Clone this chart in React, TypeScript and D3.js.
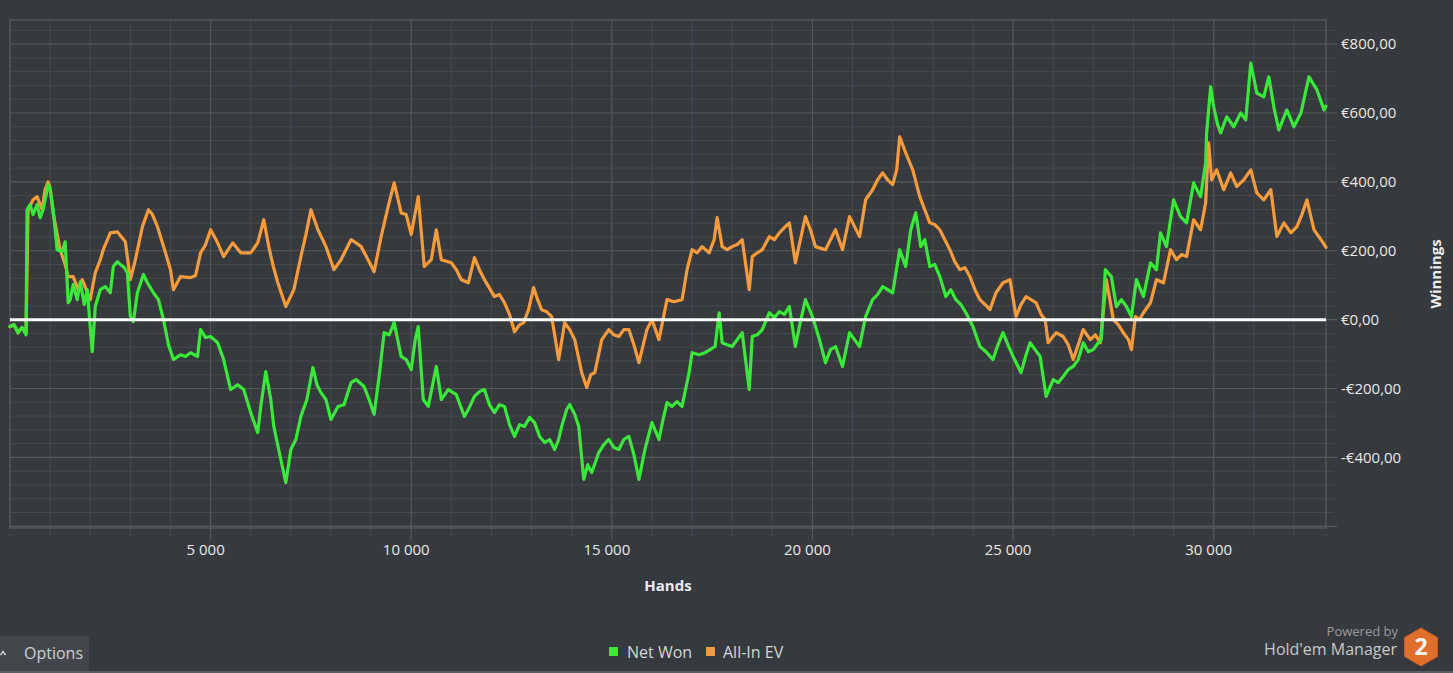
import React, { useEffect } from 'react';
import * as d3 from 'd3';

const W = 1453;
const H = 673;

const xTickValues = [5000, 10000, 15000, 20000, 25000, 30000];
const yTickValues = [-400, -200, 0, 200, 400, 600, 800];
const seriesNames = ['Net Won', 'All-In EV'];
const seriesColors = ['#3ae83a', '#f59b3b'];
const xTitle = 'Hands';
const yTitle = 'Winnings';

// [hands, euros]
const netWon: [number, number][] = [
  [0, -20], [100, -15], [200, -38], [300, -23], [400, -44], [425, 319], [500, 334], [575, 305], [675, 334],
  [750, 296], [825, 319], [950, 392], [1000, 377], [1075, 319], [1175, 203], [1300, 197], [1375, 226],
  [1450, 49], [1500, 58], [1575, 102], [1675, 58], [1750, 110], [1850, 44], [1925, 87], [2050, -93],
  [2125, 38], [2250, 87], [2375, 96], [2500, 78], [2575, 154], [2675, 168], [2750, 160], [2850, 151],
  [2925, 136], [3000, 9], [3075, -6], [3175, 78], [3325, 131], [3425, 107], [3575, 78], [3700, 58],
  [3825, 0], [3950, -73], [4075, -116], [4250, -102], [4375, -107], [4500, -96], [4675, -107], [4750, -29],
  [4875, -52], [5000, -49], [5175, -67], [5325, -116], [5500, -203], [5675, -189], [5825, -203], [6000, -270],
  [6175, -328], [6250, -252], [6375, -151], [6500, -232], [6575, -310], [6750, -406], [6875, -473],
  [7000, -377], [7125, -348], [7250, -281], [7400, -232], [7550, -139], [7650, -189], [7750, -212],
  [7875, -232], [8000, -290], [8175, -252], [8325, -247], [8500, -183], [8625, -174], [8825, -194],
  [8950, -232], [9075, -275], [9200, -165], [9325, -38], [9450, -44], [9575, -9], [9750, -107],
  [9875, -116], [10000, -145], [10100, -58], [10175, -20], [10300, -232], [10425, -252], [10625, -136],
  [10750, -232], [10925, -203], [11125, -218], [11325, -281], [11450, -255], [11575, -223], [11700, -209],
  [11825, -203], [11950, -247], [12075, -270], [12200, -247], [12325, -252], [12450, -305], [12575, -339],
  [12700, -305], [12825, -310], [12950, -284], [13075, -299], [13200, -339], [13325, -357], [13450, -348],
  [13575, -377], [13675, -348], [13750, -310], [13875, -261], [13950, -247], [14075, -275], [14175, -310],
  [14300, -464], [14400, -421], [14500, -444], [14675, -386], [14800, -363], [14925, -348], [15050, -371],
  [15175, -377], [15300, -348], [15425, -339], [15550, -392], [15675, -464], [15825, -377], [16000, -299],
  [16175, -348], [16275, -290], [16375, -241], [16500, -252], [16625, -238], [16750, -252], [16925, -154],
  [17000, -96], [17175, -102], [17325, -96], [17450, -87], [17575, -78], [17675, 20], [17750, -67],
  [17875, -73], [18000, -78], [18125, -58], [18250, -38], [18425, -203], [18500, -49], [18625, -44],
  [18750, -29], [18925, 20], [19050, 6], [19175, 23], [19300, 15], [19425, 38], [19575, -78], [19675, -20],
  [19825, 58], [20000, 9], [20175, -58], [20325, -125], [20450, -87], [20575, -78], [20750, -136],
  [20925, -38], [21050, -58], [21175, -78], [21325, 9], [21500, 58], [21625, 73], [21750, 96], [21875, 87],
  [22000, 78], [22175, 203], [22325, 154], [22450, 261], [22575, 310], [22700, 212], [22800, 232],
  [22925, 154], [23050, 160], [23175, 125], [23325, 67], [23450, 87], [23575, 58], [23700, 44], [23825, 20],
  [24000, -20], [24175, -78], [24325, -93], [24500, -116], [24625, -73], [24750, -38], [24875, -73],
  [25000, -107], [25200, -154], [25325, -102], [25425, -67], [25550, -87], [25675, -107], [25825, -223],
  [26000, -174], [26125, -183], [26250, -165], [26375, -145], [26500, -136], [26625, -116], [26750, -67],
  [26875, -93], [27000, -87], [27125, -67], [27200, -58], [27300, 145], [27450, 125], [27575, 38],
  [27700, 58], [27825, 38], [27950, 9], [28075, 116], [28250, 67], [28425, 165], [28575, 145], [28675, 252],
  [28825, 212], [29000, 348], [29175, 299], [29325, 281], [29500, 397], [29675, 357], [29800, 455],
  [29825, 542], [29925, 676], [30000, 618], [30100, 566], [30175, 542], [30325, 589], [30500, 560],
  [30675, 600], [30800, 580], [30925, 745], [31075, 658], [31250, 647], [31375, 705], [31500, 618],
  [31625, 551], [31825, 609], [32000, 560], [32175, 600], [32375, 705], [32575, 667], [32750, 609],
  [32800, 620],
];

const allInEV: [number, number][] = [
  [0, -20], [100, -15], [200, -38], [300, -23], [400, -38], [450, 319], [575, 348], [675, 357], [800, 319],
  [875, 377], [950, 400], [1000, 383], [1075, 310], [1250, 203], [1375, 160], [1450, 125], [1575, 125],
  [1700, 87], [1800, 116], [1900, 87], [2000, 58], [2125, 136], [2250, 174], [2325, 203], [2500, 252],
  [2675, 255], [2875, 226], [3000, 116], [3125, 174], [3300, 270], [3450, 319], [3550, 305], [3675, 270],
  [3875, 194], [4000, 145], [4075, 87], [4250, 125], [4500, 122], [4625, 128], [4750, 194], [4875, 218],
  [5000, 261], [5175, 223], [5325, 183], [5550, 223], [5750, 194], [6000, 194], [6175, 223], [6325, 290],
  [6450, 212], [6550, 160], [6675, 107], [6875, 38], [7075, 87], [7250, 183], [7375, 247], [7500, 319],
  [7675, 261], [7875, 212], [8075, 145], [8250, 174], [8500, 232], [8625, 223], [8750, 212], [8925, 174],
  [9075, 139], [9250, 241], [9425, 328], [9575, 397], [9750, 310], [9875, 305], [10000, 247], [10175, 357],
  [10325, 154], [10500, 174], [10625, 261], [10750, 174], [11000, 165], [11125, 145], [11250, 116],
  [11425, 107], [11575, 180], [11700, 145], [11825, 116], [12075, 67], [12200, 73], [12325, 49], [12450, 15],
  [12575, -35], [12700, -15], [12800, -9], [12925, 29], [13050, 93], [13150, 58], [13250, 29], [13375, 23],
  [13500, 9], [13675, -116], [13825, -9], [13950, -29], [14075, -58], [14250, -154], [14375, -197],
  [14475, -160], [14575, -154], [14750, -58], [14925, -29], [15050, -44], [15175, -49], [15300, -29],
  [15425, -29], [15550, -73], [15675, -125], [15875, -29], [16000, 0], [16175, -58], [16375, 58],
  [16550, 52], [16750, 58], [16875, 145], [17000, 203], [17125, 194], [17250, 212], [17425, 194],
  [17550, 232], [17625, 296], [17750, 212], [17875, 203], [18000, 212], [18125, 218], [18250, 232],
  [18425, 87], [18500, 183], [18625, 194], [18750, 203], [18925, 241], [19050, 232], [19175, 252],
  [19300, 267], [19425, 281], [19575, 165], [19825, 299], [19950, 261], [20075, 212], [20325, 203],
  [20575, 261], [20750, 203], [20925, 299], [21175, 241], [21325, 348], [21500, 377], [21625, 406],
  [21750, 426], [21875, 406], [22000, 392], [22100, 435], [22175, 531], [22325, 484], [22500, 435],
  [22675, 357], [22800, 319], [22925, 281], [23050, 276], [23175, 261], [23300, 232], [23425, 203],
  [23550, 168], [23675, 145], [23800, 151], [23925, 125], [24050, 87], [24175, 58], [24300, 44],
  [24425, 29], [24575, 78], [24750, 107], [24925, 116], [25075, 9], [25200, 44], [25325, 67], [25450, 58],
  [25575, 49], [25700, 15], [25800, 0], [25875, -67], [25975, -52], [26075, -38], [26250, -49],
  [26375, -73], [26500, -116], [26625, -73], [26750, -29], [26925, -58], [27050, -44], [27175, -67],
  [27325, 116], [27500, 0], [27625, -15], [27750, -38], [27875, -58], [27950, -87], [28050, 9], [28150, 0],
  [28250, 20], [28425, 49], [28575, 116], [28750, 107], [28925, 203], [29075, 174], [29200, 189],
  [29325, 183], [29500, 290], [29675, 261], [29800, 339], [29875, 513], [29950, 406], [30075, 435],
  [30250, 377], [30425, 426], [30575, 386], [30750, 406], [30925, 435], [31075, 368], [31250, 348],
  [31425, 377], [31575, 241], [31750, 281], [31925, 252], [32075, 270], [32200, 305], [32325, 348],
  [32500, 261], [32675, 232], [32800, 210],
];

const locale = d3.formatLocale({
  decimal: ',',
  thousands: ' ',
  grouping: [3],
  currency: ['€', ''],
  minus: '-',
});
const fmtX = locale.format(',d');
const fmtY = locale.format('$,.2f');

const FONT = "'Open Sans', 'Noto Sans', sans-serif";

export default function App() {
  useEffect(() => {
    document.body.style.margin = '0';
    document.body.style.background = '#36393e';
  }, []);

  const x = d3.scaleLinear().domain([0, 32800]).range([10, 1326]);
  const y = d3.scaleLinear().domain([-605, 870]).range([528, 20]);
  const [x0, x1] = x.range();
  const [yb, yt] = y.range();

  const line = d3
    .line<[number, number]>()
    .x((d) => x(d[0]))
    .y((d) => y(d[1]))
    .curve(d3.curveLinear);

  const minorX = d3.range(1000, 32800, 1000).filter((v) => v % 5000 !== 0);
  const minorY = d3.range(-600, 870, 40).filter((v) => v % 200 !== 0);
  const majorY = d3.range(-600, 870, 200);

  const hexR = 19;
  const hexC = [1421, 647];
  const hexPts = d3
    .range(6)
    .map((i) => {
      const a = ((-90 + 60 * i) * Math.PI) / 180;
      return `${hexC[0] + hexR * Math.cos(a)},${hexC[1] + hexR * Math.sin(a)}`;
    })
    .join(' ');

  const series = [
    { name: seriesNames[1], color: seriesColors[1], data: allInEV },
    { name: seriesNames[0], color: seriesColors[0], data: netWon },
  ];

  return (
    <svg
      width={W}
      height={H}
      style={{ position: 'absolute', left: 0, top: 0, display: 'block' }}
      fontFamily={FONT}
    >
      <rect x={0} y={0} width={W} height={H} fill="#36393e" />

      {/* minor grid */}
      {minorX.map((v) => (
        <line key={'mx' + v} x1={x(v)} x2={x(v)} y1={yt} y2={yb + 8} stroke="#46494e" strokeWidth={1} />
      ))}
      {minorY.map((v) => (
        <line key={'my' + v} x1={x0} x2={x1 + 8} y1={y(v)} y2={y(v)} stroke="#46494e" strokeWidth={1} />
      ))}
      {/* major grid */}
      {xTickValues.map((v) => (
        <line key={'Mx' + v} x1={x(v)} x2={x(v)} y1={yt} y2={yb + 12} stroke="#55585d" strokeWidth={1.2} />
      ))}
      {majorY.map((v) => (
        <line key={'My' + v} x1={x0} x2={x1 + 11} y1={y(v)} y2={y(v)} stroke="#55585d" strokeWidth={1.2} />
      ))}
      {/* plot border */}
      <rect x={x0} y={yt} width={x1 - x0} height={yb - yt} fill="none" stroke="#5a5d62" strokeWidth={1.2} />

      {/* series */}
      {series.map((s) => (
        <path
          key={s.name}
          d={line(s.data) || ''}
          fill="none"
          stroke={s.color}
          strokeWidth={3.2}
          strokeLinejoin="round"
          strokeLinecap="round"
        />
      ))}

      {/* zero line */}
      <line x1={x0} x2={x1} y1={y(0)} y2={y(0)} stroke="#ffffff" strokeWidth={3} />

      {/* y tick labels */}
      {yTickValues.map((v) => (
        <text key={'yl' + v} x={1341} y={y(v)} dy="0.35em" fill="#e8e8e8" fontSize={15}>
          {fmtY(v)}
        </text>
      ))}
      {/* x tick labels */}
      {xTickValues.map((v) => (
        <text key={'xl' + v} x={x(v) - 5} y={555} textAnchor="middle" fill="#e8e8e8" fontSize={15}>
          {fmtX(v)}
        </text>
      ))}

      {/* axis titles */}
      <text x={668} y={591} textAnchor="middle" fill="#ececec" fontSize={15} fontWeight="bold">
        {xTitle}
      </text>
      <text
        transform={`translate(1441, 274) rotate(-90)`}
        textAnchor="middle"
        fill="#ececec"
        fontSize={15}
        fontWeight="bold"
      >
        {yTitle}
      </text>

      {/* legend */}
      <rect x={609} y={647} width={9} height={9} fill={seriesColors[0]} />
      <text x={627} y={658} fill="#d6d6d6" fontSize={16}>
        {seriesNames[0]}
      </text>
      <rect x={706} y={647} width={9} height={9} fill={seriesColors[1]} />
      <text x={723} y={658} fill="#d6d6d6" fontSize={16}>
        {seriesNames[1]}
      </text>

      {/* options button */}
      <rect x={0} y={636} width={89} height={36} fill="#43464b" />
      <polyline points="0.5,655 3,651.5 5.5,655" fill="none" stroke="#d0d0d0" strokeWidth={1.4} />
      <text x={24} y={659} fill="#cfcfcf" fontSize={16}>
        Options
      </text>

      {/* bottom border */}
      <rect x={0} y={671} width={W} height={2} fill="#5a5d62" />

      {/* branding */}
      <text x={1398} y={636} textAnchor="end" fill="#9a9a9a" fontSize={13}>
        Powered by
      </text>
      <text x={1397} y={655} textAnchor="end" fill="#c8c8c8" fontSize={16}>
        Hold'em Manager
      </text>
      <polygon points={hexPts} fill="#e06f2c" stroke="#c85f22" strokeWidth={1} />
      <text x={hexC[0]} y={hexC[1] + 8} textAnchor="middle" fill="#f4f4f4" fontSize={23} fontWeight="bold">
        2
      </text>
    </svg>
  );
}
